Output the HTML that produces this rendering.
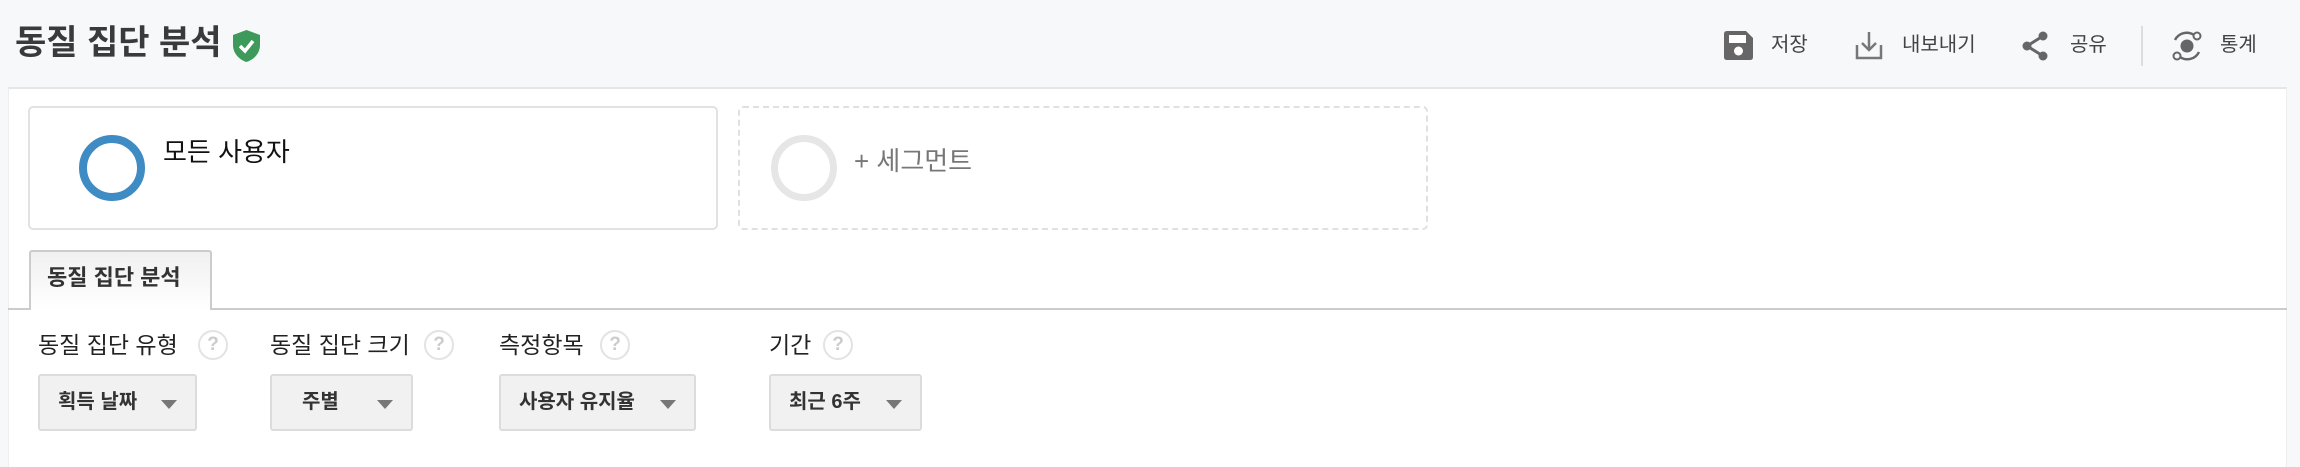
<!DOCTYPE html>
<html><head><meta charset="utf-8"><style>
*{margin:0;padding:0;box-sizing:border-box}
body{width:2300px;height:462px;background:#f7f8fa;position:relative;overflow:hidden;font-family:"Liberation Sans","Noto Sans CJK KR",sans-serif;color:#333}
.a{position:absolute;white-space:nowrap}
.panel{position:absolute;left:8px;top:87px;width:2279px;height:380px;background:#fff;border-top:2px solid #e6e6e6;border-left:1px solid #eee;border-right:1px solid #eee}
.tb{font-size:20px;color:#444;top:30px;line-height:30px}
.lbl{font-size:23px;color:#222;top:328px;line-height:34px}
.q{position:absolute;top:330px;width:30px;height:30px;border-radius:50%;border:2px solid #e3e3e3;color:#ccc;font-size:19px;text-align:center;line-height:26px;font-weight:bold}
.dd{position:absolute;top:374px;height:57px;background:#f1f1f1;border:2px solid #dcdcdc;border-radius:3px;font-size:20px;font-weight:bold;color:#333;line-height:53px;padding-left:18px}
.dd i{position:absolute;right:18px;top:24px;width:0;height:0;border-left:8px solid transparent;border-right:8px solid transparent;border-top:9px solid #777}
</style></head><body>
<div class="a" style="left:15px;top:21px;font-size:34px;font-weight:bold;color:#3a3a3a;line-height:44px">동질 집단 분석</div>
<svg class="a" style="left:232px;top:29px" width="29" height="34" viewBox="0 0 29 34"><path d="M14.5 1 L28 6 V16 C28 25 21 31 14.5 33 C8 31 1 25 1 16 V6 Z" fill="#3e9a5a"/><path d="M8 17 L13 22 L21 12" stroke="#fff" stroke-width="3.5" fill="none"/></svg>

<svg class="a" style="left:1724px;top:31px" width="29" height="29" viewBox="0 0 29 29"><path d="M3 0 H22 L29 7 V26 Q29 29 26 29 H3 Q0 29 0 26 V3 Q0 0 3 0Z" fill="#666"/><rect x="5" y="4" width="17" height="8" fill="#fff"/><circle cx="14.5" cy="20" r="4.5" fill="#fff"/></svg>
<div class="a tb" style="left:1771px">저장</div>
<svg class="a" style="left:1855px;top:31px" width="28" height="29" viewBox="0 0 28 29"><path d="M2 14 V27 H26 V14" stroke="#777" stroke-width="2.5" fill="none"/><path d="M14 1 V19 M7 12 L14 19 L21 12" stroke="#777" stroke-width="2.5" fill="none"/></svg>
<div class="a tb" style="left:1902px">내보내기</div>
<svg class="a" style="left:2022px;top:31px" width="26" height="30" viewBox="0 0 26 30"><path d="M21 5 L5 15 L21 25" stroke="#666" stroke-width="3" fill="none"/><circle cx="21" cy="5" r="4.5" fill="#666"/><circle cx="5" cy="15" r="4.5" fill="#666"/><circle cx="21" cy="25" r="4.5" fill="#666"/></svg>
<div class="a tb" style="left:2070px">공유</div>
<div class="a" style="left:2141px;top:26px;width:2px;height:40px;background:#ddd"></div>
<svg class="a" style="left:2170px;top:30px" width="34" height="32" viewBox="0 0 34 32"><circle cx="17" cy="16" r="6.5" fill="#666"/><path d="M24 5 A13 13 0 0 0 5 10" stroke="#666" stroke-width="2.5" fill="none"/><path d="M10 27 A13 13 0 0 0 29 22" stroke="#666" stroke-width="2.5" fill="none"/><circle cx="27" cy="6" r="3.5" fill="none" stroke="#666" stroke-width="2"/><circle cx="7" cy="26" r="3.5" fill="none" stroke="#666" stroke-width="2"/></svg>
<div class="a tb" style="left:2220px">통계</div>

<div class="panel"></div>
<div class="a" style="left:28px;top:106px;width:690px;height:124px;border:2px solid #e2e2e2;border-radius:5px;background:#fff"></div>
<div class="a" style="left:79px;top:135px;width:66px;height:66px;border-radius:50%;border:8px solid #3f8bc4"></div>
<div class="a" style="left:163px;top:134px;font-size:26px;color:#111;line-height:36px">모든 사용자</div>
<div class="a" style="left:738px;top:106px;width:690px;height:124px;border:2px dashed #e0e0e0;border-radius:5px"></div>
<div class="a" style="left:771px;top:135px;width:66px;height:66px;border-radius:50%;border:7px solid #e6e6e6"></div>
<div class="a" style="left:854px;top:143px;font-size:26px;color:#777;line-height:36px">+ 세그먼트</div>

<div class="a" style="left:8px;top:308px;width:2279px;height:2px;background:#ccc"></div>
<div class="a" style="left:29px;top:250px;width:183px;height:60px;border:2px solid #ccc;border-bottom:none;border-radius:3px 3px 0 0;background:linear-gradient(#f0f0f0,#fff)"></div>
<div class="a" style="left:47px;top:261px;font-size:22px;font-weight:bold;color:#333;line-height:34px">동질 집단 분석</div>

<div class="a lbl" style="left:38px">동질 집단 유형</div><div class="q" style="left:198px">?</div>
<div class="a lbl" style="left:270px">동질 집단 크기</div><div class="q" style="left:424px">?</div>
<div class="a lbl" style="left:499px">측정항목</div><div class="q" style="left:600px">?</div>
<div class="a lbl" style="left:769px">기간</div><div class="q" style="left:823px">?</div>

<div class="dd" style="left:38px;width:159px">획득 날짜<i></i></div>
<div class="dd" style="left:270px;width:143px;padding-left:30px">주별<i></i></div>
<div class="dd" style="left:499px;width:197px">사용자 유지율<i></i></div>
<div class="dd" style="left:769px;width:153px">최근 6주<i></i></div>
</body></html>
